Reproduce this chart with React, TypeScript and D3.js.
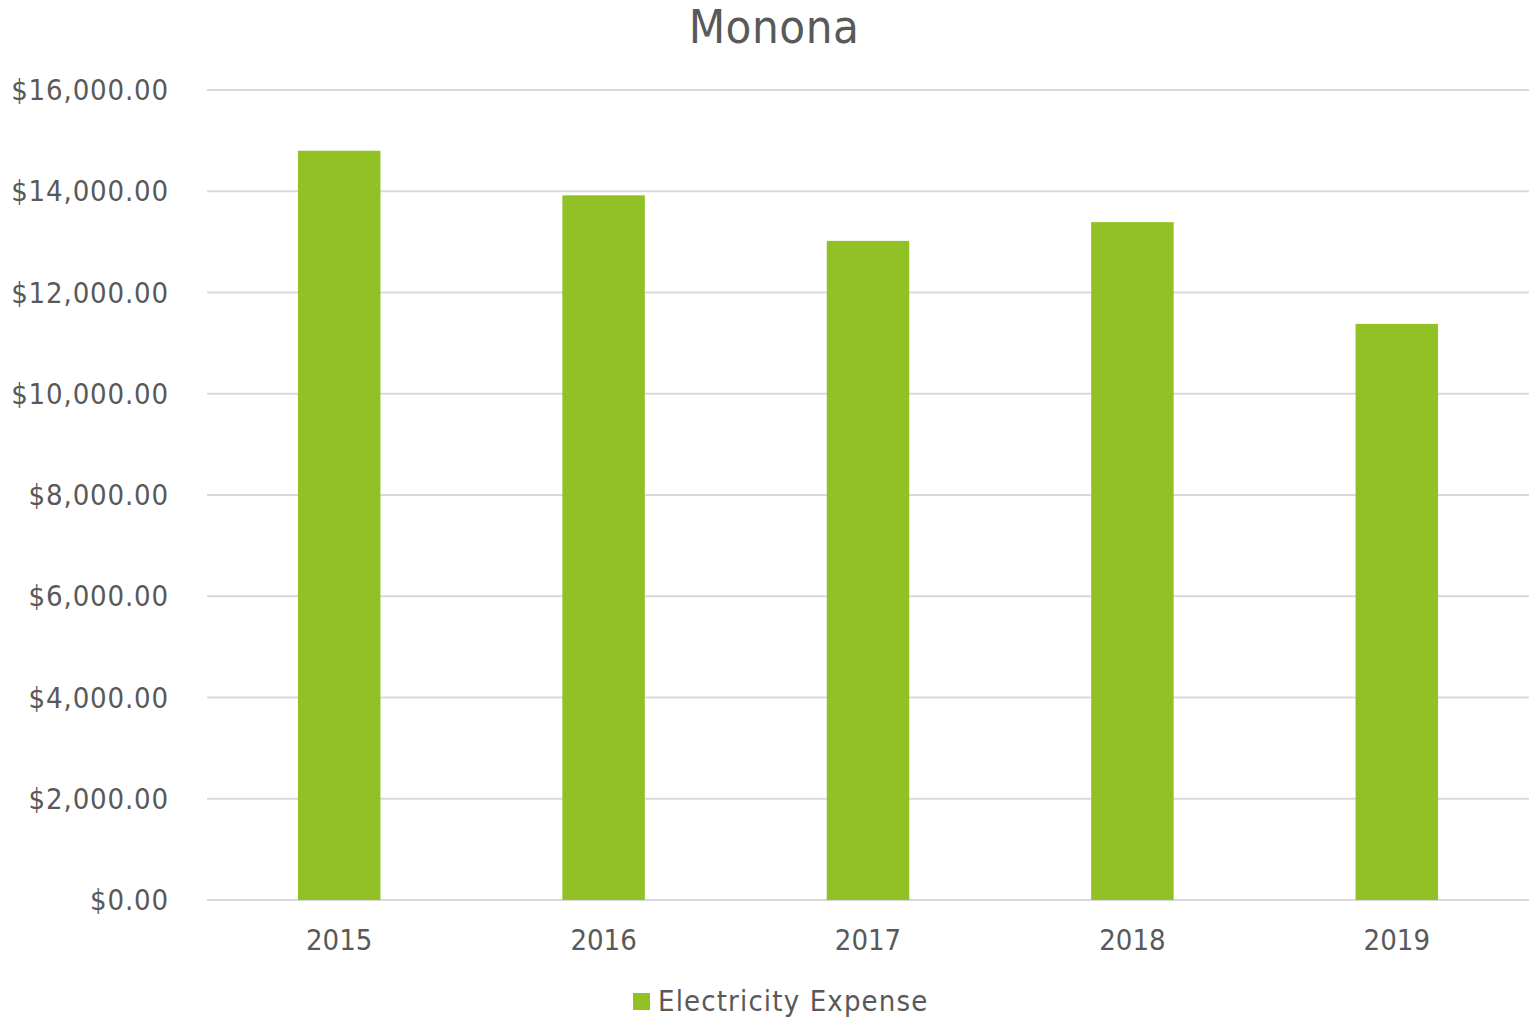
import * as d3 from 'd3'

const years = ['2015', '2016', '2017', '2018', '2019']
const expense = [14800, 13920, 13020, 13390, 11380]
const yTicks = [0, 2000, 4000, 6000, 8000, 10000, 12000, 14000, 16000]
const title = 'Monona'
const seriesName = 'Electricity Expense'

const WIDTH = 1529
const HEIGHT = 1019
const margin = { top: 90, right: 0, bottom: 119, left: 207 }
const FONT = "'DejaVu Sans Condensed', 'DejaVu Sans', sans-serif"
const TEXT = '#595959'
const GREEN = '#92c125'

const fmt = d3.format('$,.2f')

export default function App() {
  const x = d3
    .scaleBand()
    .domain(years)
    .range([margin.left, WIDTH - margin.right])
    .paddingInner(0)
    .paddingOuter(0)

  const y = d3
    .scaleLinear()
    .domain([0, 16000])
    .range([HEIGHT - margin.bottom, margin.top])

  const barW = x.bandwidth() * 0.312

  return (
    <svg
      width={WIDTH}
      height={HEIGHT}
      style={{ position: 'absolute', left: 0, top: 0, background: '#fff' }}
      fontFamily={FONT}
    >
      <text x={774} y={43} textAnchor="middle" fontSize={47} fill={TEXT} letterSpacing={0.5}>
        {title}
      </text>

      {yTicks.map(t => (
        <g key={t}>
          <line
            x1={margin.left}
            x2={WIDTH - margin.right}
            y1={y(t)}
            y2={y(t)}
            stroke="#d9d9d9"
            strokeWidth={2}
          />
          <text
            x={169}
            y={y(t) + 10}
            textAnchor="end"
            fontSize={29}
            fill={TEXT}
            letterSpacing={0.85}
          >
            {fmt(t)}
          </text>
        </g>
      ))}

      {years.map((yr, i) => (
        <rect
          key={yr}
          x={x(yr)! + x.bandwidth() / 2 - barW / 2}
          y={y(expense[i])}
          width={barW}
          height={y(0) - y(expense[i])}
          fill={GREEN}
        />
      ))}

      {years.map(yr => (
        <text
          key={yr}
          x={x(yr)! + x.bandwidth() / 2}
          y={950}
          textAnchor="middle"
          fontSize={29}
          fill={TEXT}
        >
          {yr}
        </text>
      ))}

      <g>
        <rect x={633} y={993} width={17} height={17} fill={GREEN} />
        <text x={658} y={1011} fontSize={29} fill={TEXT} letterSpacing={1.15}>
          {seriesName}
        </text>
      </g>
    </svg>
  )
}
